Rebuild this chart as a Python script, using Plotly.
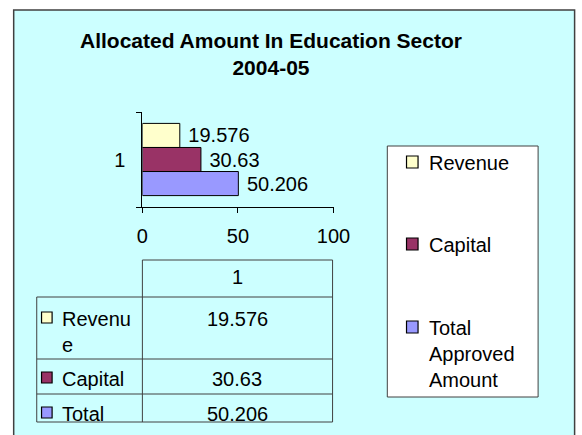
import plotly.graph_objects as go

# ---- data ----
categories = ["1"]
series_names = ["Revenue", "Capital", "Total"]
legend_labels = ["Revenue", "Capital", "Total<br>Approved<br>Amount"]
table_labels = ["Revenu<br>e", "Capital", "Total"]
values = [19.576, 30.63, 50.206]
colors = ["#ffffcc", "#993366", "#9999ff"]
x_ticks = [0, 50, 100]
title_text = "<b>Allocated Amount In Education Sector<br>2004-05</b>"

W, H = 582, 435
FONT = "Arial, Liberation Sans, sans-serif"


def X(px):
    return px / W


def Y(py):
    return 1 - py / H


fig = go.Figure()
for name, v, c in zip(series_names, values, colors):
    fig.add_trace(go.Bar(
        y=categories, x=[v], orientation="h", name=name,
        marker=dict(color=c, line=dict(color="black", width=1)),
        text=["\u00a0" + str(v)], textposition="outside",
        textfont=dict(family=FONT, size=20, color="black"),
        cliponaxis=False, showlegend=False,
    ))

shapes = []
annotations = []

# chart area background
shapes.append(dict(type="rect", xref="paper", yref="paper", layer="below",
                   x0=X(8), x1=X(W + 10), y0=Y(10), y1=Y(H + 10),
                   fillcolor="#ccffff", line=dict(color="#404040", width=1.5)))

# title
annotations.append(dict(text=title_text, xref="paper", yref="paper",
                        x=X(276), y=Y(54), xanchor="center", yanchor="middle",
                        showarrow=False, font=dict(family=FONT, size=21, color="black")))

# ---- data table ----
line_col = "#404040"
tbl_left, tbl_mid, tbl_right = 32, 142, 340
hdr_top = 260
row_bounds = [297, 359, 394, 422]


def hline(x0, x1, y):
    shapes.append(dict(type="line", xref="paper", yref="paper",
                       x0=X(x0), x1=X(x1), y0=Y(y), y1=Y(y),
                       line=dict(color=line_col, width=1)))


def vline(x, y0, y1):
    shapes.append(dict(type="line", xref="paper", yref="paper",
                       x0=X(x), x1=X(x), y0=Y(y0), y1=Y(y1),
                       line=dict(color=line_col, width=1)))


hline(tbl_mid, tbl_right, hdr_top)
for yb in row_bounds:
    hline(tbl_left, tbl_right, yb)
vline(tbl_mid, hdr_top, row_bounds[-1])
vline(tbl_right, hdr_top, row_bounds[-1])
vline(tbl_left, row_bounds[0], row_bounds[-1])

annotations.append(dict(text=categories[0], xref="paper", yref="paper",
                        x=X(241), y=Y(277), xanchor="center", yanchor="middle",
                        showarrow=False, font=dict(family=FONT, size=20, color="black")))

row_text_y = [316, 376, 411]
for lab, v, c, ty in zip(table_labels, values, colors, row_text_y):
    annotations.append(dict(text=lab, xref="paper", yref="paper",
                            x=X(56), y=Y(ty - 10), xanchor="left", yanchor="top",
                            showarrow=False, align="left",
                            font=dict(family=FONT, size=20, color="black")))
    annotations.append(dict(text=str(v), xref="paper", yref="paper",
                            x=X(241), y=Y(ty - 10), xanchor="center", yanchor="top",
                            showarrow=False, font=dict(family=FONT, size=20, color="black")))
    shapes.append(dict(type="rect", xref="paper", yref="paper",
                       x0=X(37), x1=X(48), y0=Y(ty - 4), y1=Y(ty + 7),
                       fillcolor=c, line=dict(color="black", width=1.2)))

# ---- legend box ----
shapes.append(dict(type="rect", xref="paper", yref="paper",
                   x0=X(397), x1=X(554), y0=Y(146), y1=Y(397),
                   fillcolor="white", line=dict(color="#404040", width=1)))
leg_y = [161, 243, 326]
for lab, c, ly in zip(legend_labels, colors, leg_y):
    shapes.append(dict(type="rect", xref="paper", yref="paper",
                       x0=X(417), x1=X(429), y0=Y(ly - 5), y1=Y(ly + 7),
                       fillcolor=c, line=dict(color="black", width=1.2)))
    annotations.append(dict(text=lab, xref="paper", yref="paper",
                            x=X(438), y=Y(ly - 11), xanchor="left", yanchor="top",
                            showarrow=False, align="left",
                            font=dict(family=FONT, size=20, color="black")))

fig.update_layout(
    width=W, height=H,
    margin=dict(l=0, r=0, t=0, b=0),
    paper_bgcolor="white", plot_bgcolor="rgba(0,0,0,0)",
    barmode="group", bargap=0.24, bargroupgap=0,
    showlegend=False,
    shapes=shapes, annotations=annotations,
    xaxis=dict(domain=[X(142), X(341)], range=[0, 100], tickvals=x_ticks,
               ticks="outside", ticklen=5, tickcolor="black",
               showline=True, linecolor="black", linewidth=1,
               showgrid=False, zeroline=False,
               tickfont=dict(family=FONT, size=20, color="black"),
               ticklabelstandoff=6),
    yaxis=dict(domain=[Y(207), Y(112)], type="category",
               categoryorder="array", categoryarray=categories,
               autorange="reversed",
               ticks="outside", ticklen=5, tickcolor="black", tickson="boundaries",
               showline=True, linecolor="black", linewidth=1,
               showgrid=False, zeroline=False,
               tickfont=dict(family=FONT, size=20, color="black"),
               ticklabelstandoff=12),
)

fig.write_html(
    "out.html",
    config={"displayModeBar": False},
    post_script="document.body.style.margin='0';document.body.style.overflow='hidden';",
)
